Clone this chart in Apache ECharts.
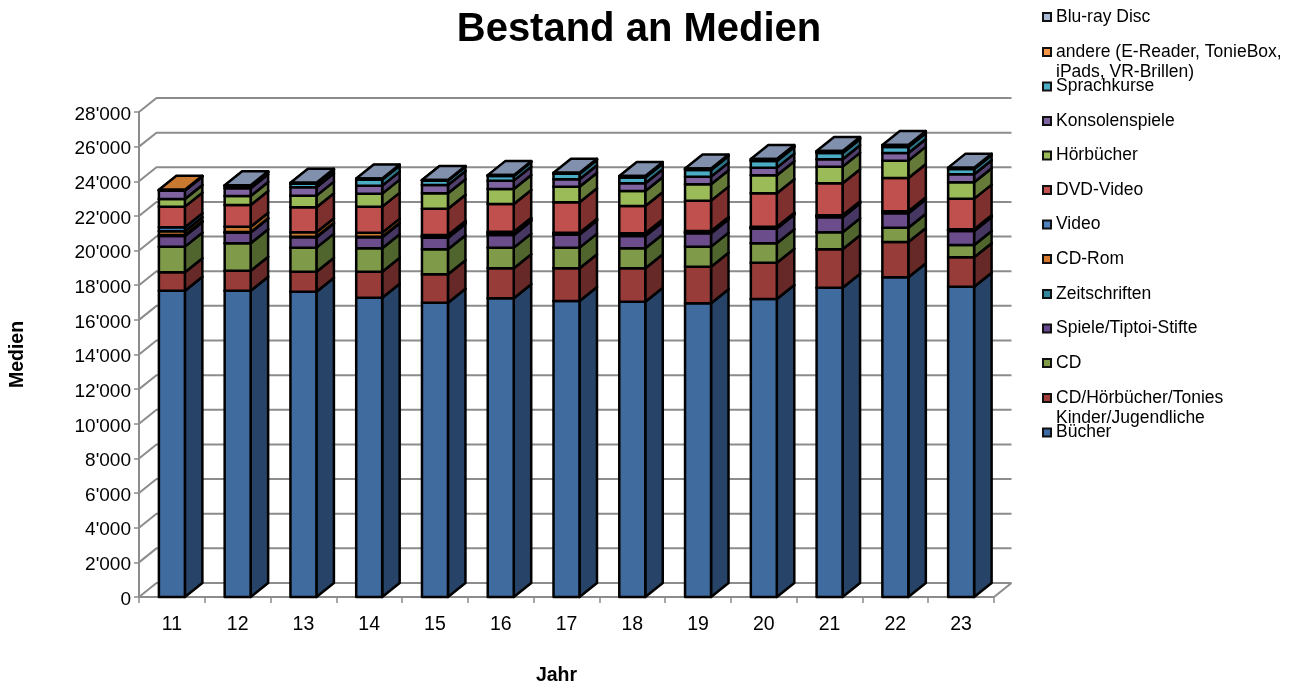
<!DOCTYPE html>
<html><head><meta charset="utf-8">
<style>html,body{margin:0;padding:0;background:#fff}#c{width:1296px;height:691px}</style>
<script src="https://cdn.jsdelivr.net/npm/echarts@6/dist/echarts.min.js"></script>
</head><body><div id="c"></div>
<script>
const years = ['11','12','13','14','15','16','17','18','19','20','21','22','23'];
const gridTicks = [0,2000,4000,6000,8000,10000,12000,14000,16000,18000,20000,22000,24000,26000,28000];
const buecher = [17685,17685,17628,17282,16993,17247,17090,17050,16958,17206,17859,18460,17917];
const cdKinder = [1063,1155,1155,1501,1640,1732,1889,1929,2113,2096,2217,2037,1697];
const cd = [1479,1583,1386,1351,1443,1190,1190,1155,1156,1121,982,820,711];
const spiele = [617,612,601,636,670,733,751,710,773,843,866,838,808];
const zeitschriften = [50,30,30,30,50,60,40,50,45,40,40,40,35];
const cdRom = [221,316,258,235,60,70,40,50,45,40,40,40,35];
const video = [231,0,0,0,46,60,35,56,43,35,36,35,28];
const dvd = [1190,1254,1444,1501,1518,1600,1755,1576,1750,1929,1847,1923,1767];
const hoerbuecher = [444,519,669,751,890,866,900,866,946,1039,959,999,947];
const konsolen = [480,444,486,462,478,479,428,445,440,439,427,445,462];
const sprachkurse = [20,130,200,350,260,270,310,330,386,387,364,346,306];
const andere = [30,20,30,30,10,20,30,40,40,50,50,50,35];
const bluray = [0,20,30,30,20,30,40,50,47,65,65,65,40];

const layers = [
 {name:'Bücher', v:buecher, front:'#3F6B9F', side:'#274368', top:'#5F7FA8', key:'#3D6CA5'},
 {name:'CD/Hörbücher/Tonies\nKinder/Jugendliche', v:cdKinder, front:'#983C3A', side:'#662927', top:'#A05A58', key:'#A23D3B'},
 {name:'CD', v:cd, front:'#7F9A48', side:'#50642E', top:'#8FA560', key:'#7F9B47'},
 {name:'Spiele/Tiptoi-Stifte', v:spiele, front:'#6B4D8B', side:'#463662', top:'#7A6597', key:'#65478F'},
 {name:'Zeitschriften', v:zeitschriften, front:'#31859C', side:'#215C6C', top:'#4B8FA2', key:'#31859C'},
 {name:'CD-Rom', v:cdRom, front:'#CC7A30', side:'#9A5B22', top:'#C07A40', key:'#D57A2C'},
 {name:'Video', v:video, front:'#3F7ABB', side:'#2E5580', top:'#5F88B8', key:'#4F81BD'},
 {name:'DVD-Video', v:dvd, front:'#C0504D', side:'#7E302E', top:'#B06A68', key:'#C0504D'},
 {name:'Hörbücher', v:hoerbuecher, front:'#9BBB59', side:'#657A38', top:'#A0B070', key:'#9BBB59'},
 {name:'Konsolenspiele', v:konsolen, front:'#8064A2', side:'#513F6E', top:'#8A789F', key:'#8064A2'},
 {name:'Sprachkurse', v:sprachkurse, front:'#4BACC6', side:'#2E7488', top:'#60A0B2', key:'#4BACC6'},
 {name:'andere (E-Reader, TonieBox,\niPads, VR-Brillen)', v:andere, front:'#F79646', side:'#A65F20', top:'#C87830', key:'#F79646'},
 {name:'Blu-ray Disc', v:bluray, front:'#AAB9D6', side:'#6F80A0', top:'#8090AD', key:'#AAB9D6'}
];

const DX = 17.5, DY = 14;
const EDGE = {stroke:'#000', lineWidth:2.5, lineJoin:'round'};

function poly(points, fill){
  return {type:'polygon', shape:{points}, style:Object.assign({fill}, EDGE)};
}
function barRender(layer){
  return function(params, api){
    const base = api.value(1), topV = api.value(2);
    if (topV === base) return null;
    const p0 = api.coord([api.value(0), base]), p1 = api.coord([api.value(0), topV]);
    const w = api.size([1,0])[0] * 0.395;
    const l = p0[0] - w/2, r = l + w, yb = p0[1], yt = p1[1];
    return {type:'group', children:[
      poly([[r,yb],[r+DX,yb-DY],[r+DX,yt-DY],[r,yt]], layer.side),
      poly([[l,yt],[r,yt],[r+DX,yt-DY],[l+DX,yt-DY]], layer.top),
      poly([[l,yb],[r,yb],[r,yt],[l,yt]], layer.front)
    ]};
  };
}
function wallRender(params, api){
  const val = api.value(0);
  const cs = params.coordSys;
  const y = api.coord([0,val])[1];
  const L = cs.x, R = cs.x + cs.width;
  const line = {stroke:'#8C8C8C', lineWidth:2, fill:null};
  const kids = [{type:'polyline', shape:{points:[[L,y],[L+DX,y-DY],[R+DX,y-DY]]}, style:line}];
  if (val === 0) kids.push({type:'polyline', shape:{points:[[R,y],[R+DX,y-DY]]}, style:line});
  return {type:'group', children:kids};
}

const running = years.map(()=>0);
const series = [{type:'custom', name:'wall', silent:true, clip:false, z:1, renderItem:wallRender,
  data:gridTicks.map(t=>[t]), encode:{y:0}}];
layers.forEach(ly=>{
  const data = ly.v.map((v,i)=>{const b=running[i]; running[i]+=v; return [i,b,running[i]];});
  series.push({type:'custom', name:ly.name, clip:false, z:2, renderItem:barRender(ly), silent:true,
    itemStyle:{color:ly.key}, data, encode:{x:0,y:[1,2]}});
});

const legendCenters = [432.5,398,363,328.5,294,259,224.5,190,155.5,121,86.5,52,17];
const LH = 20;
const legends = layers.map((ly,i)=>{
  const multi = ly.name.indexOf('\n')>=0;
  return {
    show:true, orient:'vertical', left:1042, top:legendCenters[i]-(multi?LH*1.5:LH/2), padding:0,
    selectedMode:false, icon:'rect', itemWidth:8, itemHeight:8,
    itemStyle:{color:ly.key, borderColor:'#111', borderWidth:2},
    textStyle:{fontFamily:'Liberation Sans', fontSize:17.5, color:'#000', lineHeight:LH},
    formatter:n=>multi?'\n'+n:n,
    data:[ly.name]
  };
});

const chart = echarts.init(document.getElementById('c'), null, {renderer:'canvas'});
chart.setOption({
  animation:false,
  backgroundColor:'#fff',
  title:{text:'Bestand an Medien', left:634, top:5, textAlign:'center',
    textStyle:{fontFamily:'Liberation Sans', fontWeight:'bold', fontSize:40, color:'#000'}},
  legend:legends,
  grid:{left:139, top:112, width:855, height:485, containLabel:false, outerBoundsMode:'none'},
  xAxis:{type:'category', data:years, boundaryGap:true,
    name:'Jahr', nameLocation:'middle', nameGap:69,
    nameTextStyle:{fontFamily:'Liberation Sans', fontWeight:'bold', fontSize:19.5, color:'#000', padding:[0,20,0,0]},
    axisLine:{lineStyle:{color:'#8C8C8C', width:2}},
    axisTick:{show:true, length:6, lineStyle:{color:'#8C8C8C', width:1.5}},
    axisLabel:{fontFamily:'Liberation Sans', fontSize:19.5, color:'#000', margin:18},
    splitLine:{show:false}},
  yAxis:{type:'value', min:0, max:28000, interval:2000,
    name:'Medien', nameLocation:'middle', nameGap:111, nameRotate:90,
    nameTextStyle:{fontFamily:'Liberation Sans', fontWeight:'bold', fontSize:19.5, color:'#000'},
    axisLine:{show:true, lineStyle:{color:'#8C8C8C', width:2}},
    axisTick:{show:true, length:5, lineStyle:{color:'#8C8C8C', width:1.5}},
    axisLabel:{margin:8, color:'#000', fontFamily:'Liberation Sans', fontSize:19,
      rich:{t:{fontFamily:'Liberation Sans', fontSize:19, color:'#000', padding:[5,0,0,0]}},
      formatter:v=>'{t|'+String(v).replace(/\B(?=(\d{3})+$)/g,"'")+'}'},
    splitLine:{show:false}},
  series
});
</script></body></html>
